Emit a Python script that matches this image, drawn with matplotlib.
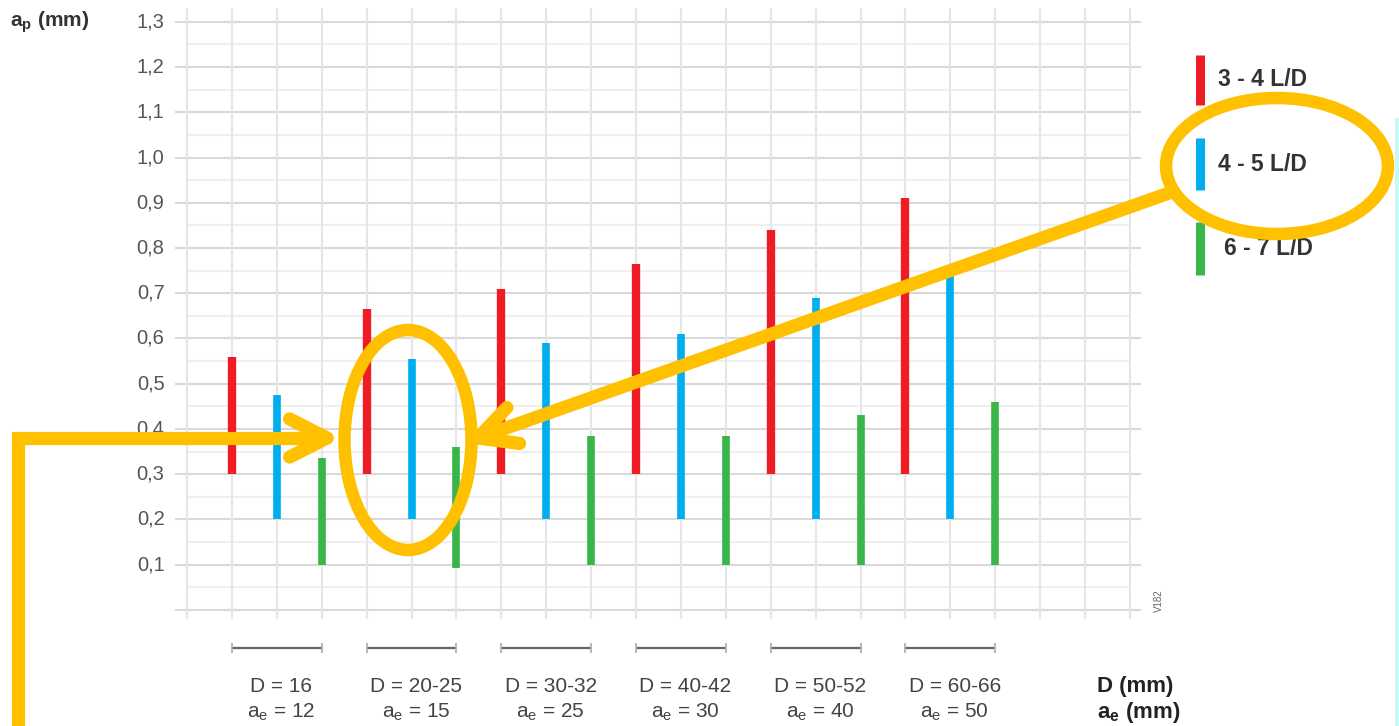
import numpy as np
import matplotlib
matplotlib.use("Agg")
import matplotlib.pyplot as plt
from matplotlib.patches import Ellipse, Rectangle

plt.rcParams['font.family'] = ['Liberation Sans', 'DejaVu Sans']
plt.rcParams['mathtext.fontset'] = 'custom'
plt.rcParams['mathtext.rm'] = 'Liberation Sans'
plt.rcParams['mathtext.bf'] = 'Liberation Sans:bold'

# data
d_labels = ["16", "20-25", "30-32", "40-42", "50-52", "60-66"]
ae_values = [12, 15, 25, 30, 40, 50]
red_lo = [0.3, 0.3, 0.3, 0.3, 0.3, 0.3]
red_hi = [0.56, 0.665, 0.71, 0.765, 0.84, 0.91]
blue_lo = [0.2, 0.2, 0.2, 0.2, 0.2, 0.2]
blue_hi = [0.475, 0.555, 0.59, 0.61, 0.69, 0.745]
green_lo = [0.1, 0.093, 0.1, 0.1, 0.1, 0.1]
green_hi = [0.335, 0.36, 0.385, 0.385, 0.43, 0.46]
legend_labels = ["3 - 4 L/D", "4 - 5 L/D", "6 - 7 L/D"]
y_ticks = np.round(np.arange(0.1, 1.31, 0.1), 1)

RED = "#ee1c25"
BLUE = "#00aeef"
GREEN = "#39b54a"
ORANGE = "#ffc000"

fig = plt.figure(figsize=(13.99, 7.26), dpi=100)
ax = fig.add_axes([0, 0, 1, 1])
ax.set_xlim(-4.165, 26.993)
ax.set_ylim(-0.2564, 1.3481)
ax.axis("off")

# grid
for v in np.round(np.arange(0, 1.31, 0.05), 2):
    if abs(v * 10 - round(v * 10)) < 1e-6:
        ax.hlines(v, -0.27, 21.25, color="#d9d9d9", lw=1.5, zorder=1)
    else:
        ax.hlines(v, 0, 21, color="#efefef", lw=1.5, zorder=1)
ax.vlines(np.arange(0, 22), -0.02, 1.33, color="#e6e6e6", lw=1.5, zorder=1)

for t in y_ticks:
    ax.text(-0.5, t, f"{t:.1f}".replace(".", ","), ha="right", va="center",
            fontsize=14.5, color="#555555")

ax.text(-3.95, 1.30, r"a$_\mathbf{p}$ (mm)", fontsize=15, fontweight="bold",
        color="#333333", ha="left", va="center")

# bars
x_red = np.arange(len(d_labels)) * 3 + 1
x_blue = x_red + 1
x_green = x_red + 2
ax.vlines(x_red, red_lo, red_hi, color=RED, lw=6.0, zorder=3)
ax.vlines(x_blue, blue_lo, blue_hi, color=BLUE, lw=5.5, zorder=3)
ax.vlines(x_green, green_lo, green_hi, color=GREEN, lw=5.5, zorder=3)

# group brackets and labels
for i in range(len(d_labels)):
    ax.hlines(-0.084, x_red[i], x_green[i], color="#666666", lw=1.6)
    ax.vlines([x_red[i], x_green[i]], -0.095, -0.073, color="#aaaaaa", lw=1.2)
    ax.text(x_blue[i] + 0.1, -0.168, "D = " + d_labels[i], ha="center", va="center",
            fontsize=15, color="#444444")
    ax.text(x_blue[i] + 0.1, -0.227, r"a$_\mathrm{e}$ = " + str(ae_values[i]),
            ha="center", va="center", fontsize=15, color="#444444")

ax.text(20.27, -0.168, "D (mm)", ha="left", va="center", fontsize=16,
        fontweight="bold", color="#222222")
ax.text(20.27, -0.227, r"a$_\mathbf{e}$ (mm)", ha="left", va="center", fontsize=16,
        fontweight="bold", color="#222222")
ax.text(21.65, 0.02, "V182", rotation=90, ha="center", va="center",
        fontsize=7, color="#666666")

# legend
leg_x = 22.56
leg_spans = [(1.116, 1.227), (0.928, 1.043), (0.740, 0.857)]
for (lo, hi), c, lab, tx in zip(leg_spans, [RED, BLUE, GREEN], legend_labels,
                                [22.96, 22.96, 23.1]):
    ax.vlines(leg_x, lo, hi, color=c, lw=6.5)
    ax.text(tx, (lo + hi) / 2, lab, ha="left", va="center", fontsize=16.5,
            fontweight="bold", color="#333333")

# orange annotations, pixel coordinates overlay
ov = fig.add_axes([0, 0, 1, 1])
ov.set_xlim(0, 1399)
ov.set_ylim(726, 0)
ov.axis("off")
ov.patch.set_alpha(0)

ov.add_patch(Rectangle((1395, 118), 4, 608, color="#c8f8f8", lw=0))

lw_o = 9.5
ov.add_patch(Ellipse((408, 440), 127, 220, fill=False, ec=ORANGE, lw=9.0))
ov.add_patch(Ellipse((1277, 166), 222, 136, fill=False, ec=ORANGE, lw=9.0))


def arrow(ax_, pts, tip, back, ang=27, length=42):
    xs, ys = zip(*pts)
    ax_.plot(xs, ys, color=ORANGE, lw=lw_o, solid_joinstyle="miter",
             solid_capstyle="butt")
    u = np.array(back, float) - np.array(tip, float)
    u /= np.hypot(*u)
    for s in (1, -1):
        a = np.deg2rad(s * ang)
        r = np.array([u[0] * np.cos(a) - u[1] * np.sin(a),
                      u[0] * np.sin(a) + u[1] * np.cos(a)])
        e = np.array(tip) + r * length
        ax_.plot([tip[0], e[0]], [tip[1], e[1]], color=ORANGE, lw=lw_o,
                 solid_capstyle="round")


arrow(ov, [(1172, 192), (478, 438)], (478, 438), (1172, 192))
arrow(ov, [(18, 726), (18, 438), (325, 438)], (327, 438), (18, 438))

fig.savefig("out.png", dpi=100, facecolor="white")
